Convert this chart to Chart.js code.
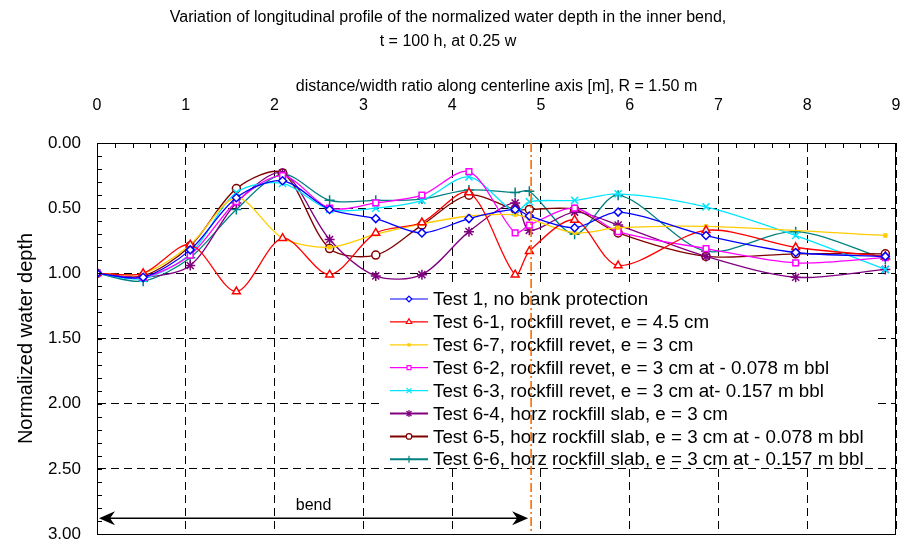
<!DOCTYPE html>
<html>
<head>
<meta charset="utf-8">
<script src="https://cdn.jsdelivr.net/npm/chart.js@4.4.0/dist/chart.umd.min.js"></script>
<style>
  body { margin: 0; background: #fff; }
</style>
</head>
<body>
<canvas id="myChart" width="909" height="544"></canvas>
<script>
var distances = [0, 0.52, 1.05, 1.57, 2.09, 2.62, 3.14, 3.66, 4.19, 4.71, 4.87, 5.38, 5.87, 6.86, 7.87, 8.88];

var test1  = [1.00, 1.03, 0.82, 0.42, 0.29, 0.51, 0.58, 0.69, 0.58, 0.51, 0.56, 0.65, 0.53, 0.71, 0.84, 0.87];
var test61 = [1.00, 1.00, 0.78, 1.14, 0.73, 1.01, 0.69, 0.61, 0.38, 1.01, 0.83, 0.59, 0.94, 0.67, 0.80, 0.87];
var test67 = [1.00, 1.00, 0.78, 0.42, 0.73, 0.80, 0.70, 0.62, 0.56, 0.55, 0.58, 0.69, 0.65, 0.64, null, 0.71];
var test62 = [1.00, 1.03, 0.86, 0.45, 0.25, 0.50, 0.46, 0.40, 0.22, 0.69, 0.63, 0.50, 0.68, 0.81, 0.92, 0.88];
var test63 = [1.00, 1.04, 0.85, 0.38, 0.31, 0.51, 0.50, 0.44, 0.26, 0.53, 0.45, 0.44, 0.39, 0.49, 0.71, 0.97];
var test64 = [1.00, 1.03, 0.94, 0.46, 0.23, 0.74, 1.02, 1.01, 0.68, 0.46, 0.67, 0.53, 0.63, 0.87, 1.03, 0.97];
var test65 = [1.00, 1.02, 0.79, 0.35, 0.23, 0.81, 0.86, 0.63, 0.40, 0.51, 0.51, 0.51, 0.69, 0.87, 0.85, 0.85];
var test66 = [1.00, 1.06, 0.88, 0.51, 0.24, 0.44, 0.44, 0.43, 0.36, 0.38, 0.37, 0.70, 0.40, 0.83, 0.68, 0.89];

var seriesNames = [
  "Test 1, no bank protection",
  "Test 6-1, rockfill revet, e = 4.5 cm",
  "Test 6-7, rockfill revet, e = 3 cm",
  "Test 6-2, rockfill revet, e = 3 cm at - 0.078 m bbl",
  "Test 6-3, rockfill revet, e = 3 cm at- 0.157 m bbl",
  "Test 6-4, horz rockfill slab, e = 3 cm",
  "Test 6-5, horz rockfill slab, e = 3 cm at - 0.078 m bbl",
  "Test 6-6, horz rockfill slab, e = 3 cm at - 0.157 m bbl"
];
var seriesValues = [test1, test61, test67, test62, test63, test64, test65, test66];

var yTicks = [0, 0.5, 1, 1.5, 2, 2.5, 3];
var xTicks = [0, 1, 2, 3, 4, 5, 6, 7, 8, 9];
var bendStart = 0;
var bendEnd = 4.89;

var lineColors = ['#0000ff', '#ff0000', '#ffcc00', '#ff00ff', '#00e5ff', '#800080', '#800000', '#008080'];
var markerStyles = ['rectRot', 'triangle', 'rect', 'rect', 'crossRot', 'star', 'circle', 'cross'];
var markerSizes = [4, 4.5, 2, 4, 5, 5, 4, 5];
var markerFills = ['#fff', '#fff', '#ffcc00', '#fff', '#fff', '#fff', '#fff', '#fff'];

var fontFamily = "'Liberation Sans', Arial, sans-serif";
Chart.defaults.font.family = fontFamily;
Chart.defaults.color = '#000';

var datasets = seriesValues.map(function (vals, i) {
  return {
    label: seriesNames[i],
    data: distances.map(function (d, k) { return { x: d, y: vals[k] }; }),
    borderColor: lineColors[i],
    backgroundColor: markerFills[i],
    borderWidth: 1.3,
    pointStyle: markerStyles[i],
    pointRadius: markerSizes[i],
    pointBorderWidth: 1.5,
    pointBorderColor: lineColors[i],
    pointBackgroundColor: markerFills[i],
    tension: 0.3,
    spanGaps: true
  };
});

// minor ticks, frame, legend box, bend marker
var extras = {
  id: 'extras',
  afterDatasetsDraw: function (chart) {
    var ctx = chart.ctx;
    var a = chart.chartArea;
    var xs = chart.scales.x, ys = chart.scales.y;
    ctx.save();

    // frame
    ctx.strokeStyle = '#000';
    ctx.lineWidth = 1;
    ctx.setLineDash([]);
    ctx.strokeRect(a.left + 0.5, a.top + 0.5, a.right - a.left - 1, a.bottom - a.top);

    // minor ticks
    ctx.beginPath();
    for (var v = 0; v <= 9.001; v += 0.2) {
      var px = Math.round(xs.getPixelForValue(v)) + 0.5;
      ctx.moveTo(px, a.top);
      ctx.lineTo(px, a.top + 5);
    }
    for (var w = 0; w <= 3.001; w += 0.1) {
      var py = Math.round(ys.getPixelForValue(w)) + 0.5;
      ctx.moveTo(a.left, py);
      ctx.lineTo(a.left + 5, py);
    }
    ctx.stroke();

    // legend box
    var bx = 380, by = 285, bw = 496, bh = 181;
    ctx.fillStyle = '#fff';
    ctx.fillRect(bx, by, bw, bh);
    ctx.font = '18.8px ' + fontFamily;
    ctx.textBaseline = 'middle';
    ctx.textAlign = 'left';
    for (var i = 0; i < seriesNames.length; i++) {
      var ry = 299 + i * 22.9;
      ctx.strokeStyle = lineColors[i];
      ctx.lineWidth = (i >= 5) ? 2 : 1.2;
      ctx.beginPath();
      ctx.moveTo(390, ry);
      ctx.lineTo(428, ry);
      ctx.stroke();
      ctx.lineWidth = 1.2;
      ctx.fillStyle = markerFills[i];
      Chart.helpers.drawPoint(ctx, {
        pointStyle: markerStyles[i],
        radius: markerSizes[i] * 0.7,
        rotation: 0,
        borderWidth: 1.2
      }, 409, ry);
      ctx.fillStyle = '#000';
      ctx.fillText(seriesNames[i], 433, ry + 1);
    }

    // end of bend
    var ex = xs.getPixelForValue(bendEnd);
    ctx.strokeStyle = '#ff6a00';
    ctx.lineWidth = 1.6;
    ctx.setLineDash([9, 3, 2, 3]);
    ctx.beginPath();
    ctx.moveTo(ex, a.top);
    ctx.lineTo(ex, a.bottom);
    ctx.stroke();
    ctx.setLineDash([]);

    // bend arrow
    var x0 = xs.getPixelForValue(bendStart) + 2;
    var x1 = ex - 3;
    var ay = ys.getPixelForValue(2.88);
    ctx.strokeStyle = '#000';
    ctx.fillStyle = '#000';
    ctx.lineWidth = 1.5;
    ctx.beginPath();
    ctx.moveTo(x0 + 10, ay);
    ctx.lineTo(x1 - 10, ay);
    ctx.stroke();
    ctx.beginPath();
    ctx.moveTo(x0, ay);
    ctx.lineTo(x0 + 16, ay - 7);
    ctx.lineTo(x0 + 11, ay);
    ctx.lineTo(x0 + 16, ay + 7);
    ctx.closePath();
    ctx.fill();
    ctx.beginPath();
    ctx.moveTo(x1, ay);
    ctx.lineTo(x1 - 16, ay - 7);
    ctx.lineTo(x1 - 11, ay);
    ctx.lineTo(x1 - 16, ay + 7);
    ctx.closePath();
    ctx.fill();
    ctx.font = '16px ' + fontFamily;
    ctx.textAlign = 'center';
    ctx.textBaseline = 'middle';
    ctx.fillText('bend', (x0 + x1) / 2, ay - 13);

    ctx.restore();
  }
};

new Chart("myChart", {
  type: "line",
  data: { datasets: datasets },
  options: {
    responsive: false,
    animation: false,
    devicePixelRatio: 1,
    layout: { padding: { left: 0, right: 13, top: 0, bottom: 10 } },
    plugins: {
      legend: { display: false },
      tooltip: { enabled: false },
      title: {
        display: true,
        text: ["Variation of longitudinal profile of the normalized water depth in the inner bend,",
               "t = 100 h, at 0.25 w"],
        font: { size: 16, weight: 'normal', lineHeight: 1.5 },
        color: '#000',
        padding: { top: 6, bottom: 0 }
      }
    },
    scales: {
      x: {
        type: 'linear',
        position: 'top',
        min: 0,
        max: 9,
        afterBuildTicks: function (s) { s.ticks = xTicks.map(function (v) { return { value: v }; }); },
        afterFit: function (s) { s.height = 89; s.paddingLeft = 0; s.paddingRight = 0; },
        ticks: { padding: 28, font: { size: 16 }, color: '#000' },
        grid: { color: '#000', lineWidth: 1, drawTicks: false },
        border: { display: true, color: '#000', dash: [8, 5] },
        title: {
          display: true,
          text: "distance/width ratio along centerline axis [m], R = 1.50 m",
          font: { size: 16 },
          color: '#000',
          padding: { top: 23, bottom: 0 }
        }
      },
      y: {
        type: 'linear',
        reverse: true,
        min: 0,
        max: 3,
        afterBuildTicks: function (s) { s.ticks = yTicks.map(function (v) { return { value: v }; }); },
        afterFit: function (s) { s.width = 97; s.paddingTop = 0; s.paddingBottom = 0; },
        ticks: {
          padding: 16,
          font: { size: 17 },
          color: '#000',
          callback: function (v) { return Number(v).toFixed(2); }
        },
        grid: { color: '#000', lineWidth: 1, drawTicks: false },
        border: { display: true, color: '#000', dash: [8, 5] },
        title: {
          display: true,
          text: "Normalized water depth",
          font: { size: 20 },
          color: '#000',
          padding: { top: 14, bottom: 0 }
        }
      }
    }
  },
  plugins: [extras]
});
</script>
</body>
</html>
